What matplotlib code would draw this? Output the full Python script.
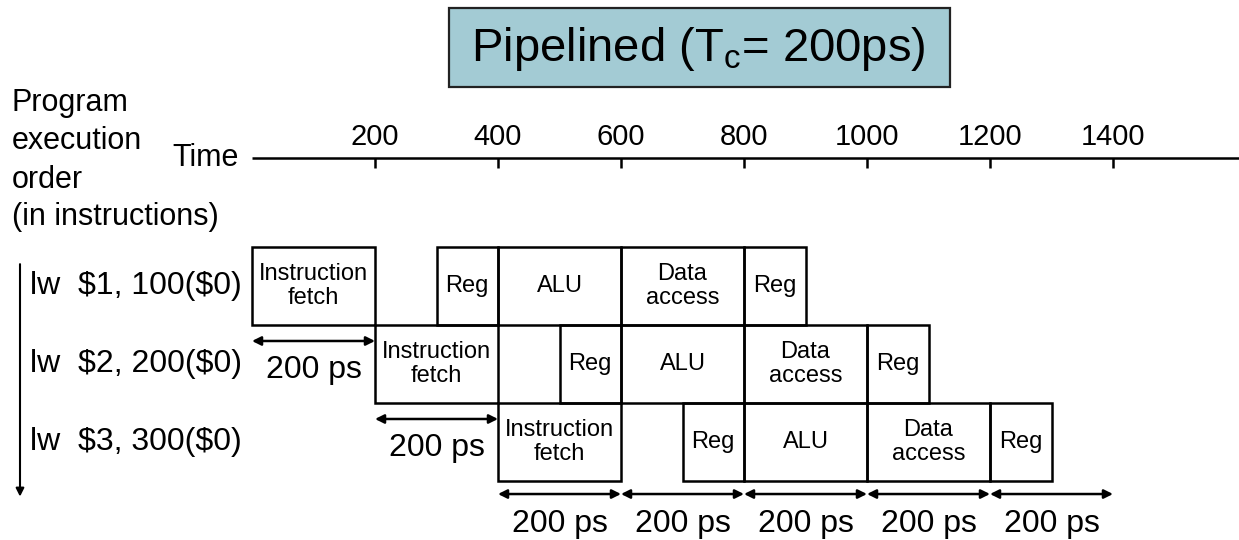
import matplotlib
matplotlib.use("Agg")
import matplotlib.pyplot as plt
from matplotlib.patches import Rectangle
import matplotlib.transforms as mtransforms

plt.rcParams['font.family'] = ['Liberation Sans', 'DejaVu Sans']
plt.rcParams['mathtext.fontset'] = 'custom'
plt.rcParams['mathtext.rm'] = 'Liberation Sans'
plt.rcParams['mathtext.it'] = 'Liberation Sans'

# ---------------- data ----------------
instructions = ["lw  \\$1, 100(\\$0)", "lw  \\$2, 200(\\$0)", "lw  \\$3, 300(\\$0)"]
instr_start = [0, 200, 400]                      # ps
stage_names = ["Instruction\nfetch", "Reg", "ALU", "Data\naccess", "Reg"]
stage_offset = [0, 300, 400, 600, 800]           # ps, relative to instruction start
stage_duration = [200, 100, 200, 200, 100]       # ps
time_ticks = [200, 400, 600, 800, 1000, 1200, 1400]
cycle_ps = 200
# arrows marking 200 ps intervals: (row, start, end)
row_arrows = [(0, 0, 200), (1, 200, 400)]
bottom_arrow_starts = [400, 600, 800, 1000, 1200]
title = r"Pipelined (T$_{\mathrm{c}}$= 200ps)"

# ---------------- layout ----------------
W, H = 1239, 540
fig = plt.figure(figsize=(W / 100, H / 100), dpi=100)
ax = fig.add_axes([0, 0, 1, 1])
px_per_ps = 123 / 200.0
origin_px = 252
row_px = 78
row0_px = 286
ax.set_xlim(-origin_px / px_per_ps, (W - origin_px) / px_per_ps)
ax.set_ylim((H - row0_px) / row_px, -row0_px / row_px)
ax.axis('off')

blend = mtransforms.blended_transform_factory(fig.transFigure, ax.transData)
LW = 1.8

# title box
fig.patches.append(Rectangle((449 / W, 1 - 87 / H), (950 - 449) / W, (87 - 8) / H,
                             transform=fig.transFigure, facecolor='#a3cbd4',
                             edgecolor='#222222', lw=1.6))
fig.text(698 / W, 1 - 49 / H, title, ha='center', va='center', fontsize=34)

# time axis
axis_y = (158 - row0_px) / row_px
xmax = ax.get_xlim()[1]
ax.plot([0, xmax], [axis_y, axis_y], color='black', lw=LW, solid_capstyle='butt')
ax.vlines(time_ticks, axis_y, axis_y + 0.13, color='black', lw=LW)
for t in time_ticks:
    ax.text(t, axis_y - 0.27, str(t), ha='center', va='center', fontsize=21)
ax.text(-22, axis_y, "Time", ha='right', va='center', fontsize=22)

# left side captions
for txt, ypx in [("Program", 103), ("execution", 141), ("order", 180), ("(in instructions)", 217)]:
    fig.text(12 / W, 1 - ypx / H, txt, ha='left', va='center', fontsize=22)

# program order arrow
ax.annotate("", xy=(20 / W, 2.7), xytext=(20 / W, -0.28),
            xycoords=blend, textcoords=blend,
            arrowprops=dict(arrowstyle='-|>', color='black', lw=1.5, mutation_scale=12,
                            shrinkA=0, shrinkB=0))

# instruction labels and stage boxes
for i, (name, st) in enumerate(zip(instructions, instr_start)):
    ax.text(30 / W, i, name, transform=blend, ha='left', va='center', fontsize=23)
    for sname, off, dur in zip(stage_names, stage_offset, stage_duration):
        x0 = st + off
        ax.add_patch(Rectangle((x0, i - 0.5), dur, 1.0, fill=False,
                               edgecolor='black', lw=LW))
        ax.text(x0 + dur / 2, i, sname, ha='center', va='center', fontsize=17,
                linespacing=1.1)

def ps_arrow(x0, x1, y, label_y):
    ax.annotate("", xy=(x1, y), xytext=(x0, y),
                arrowprops=dict(arrowstyle='<|-|>', color='black', lw=LW,
                                mutation_scale=13, shrinkA=0, shrinkB=0))
    ax.text((x0 + x1) / 2, label_y, f"{cycle_ps} ps", ha='center', va='center', fontsize=23)

for r, a, b in row_arrows:
    ps_arrow(a, b, r + 0.705, r + 1.08)
for a in bottom_arrow_starts:
    ps_arrow(a, a + cycle_ps, 2.667, 3.05)

fig.savefig("out.png", dpi=100)
